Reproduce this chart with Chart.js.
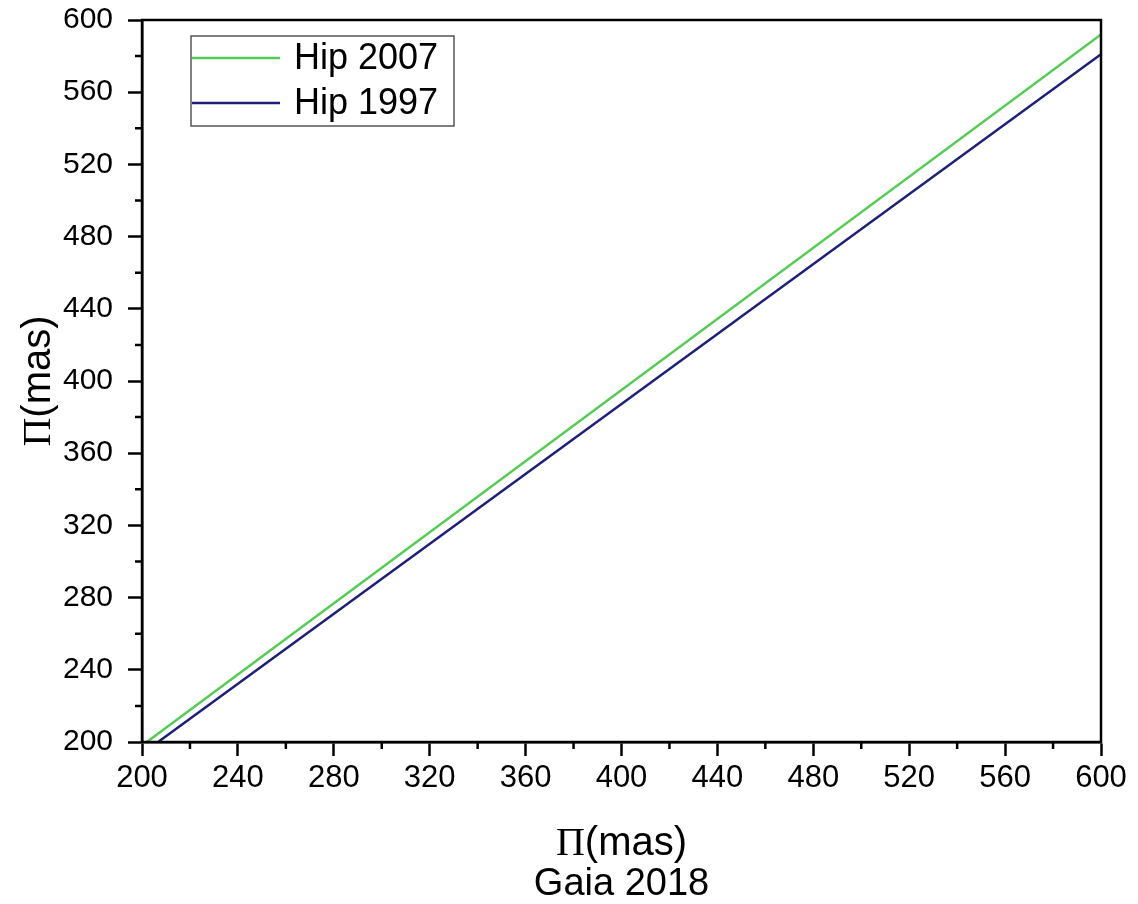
<!DOCTYPE html>
<html>
<head>
<meta charset="utf-8">
<script src="https://cdn.jsdelivr.net/npm/chart.js@4"></script>
<style>
  html, body { margin: 0; padding: 0; background: #fff; }
  #wrap { width: 1138px; height: 904px; }
</style>
</head>
<body>
<div id="wrap"><canvas id="chart" width="1138" height="904"></canvas></div>
<script>
// Gaia 2018 parallax (x) vs Hipparcos parallax (y)
const gaia2007 = [202, 600]
const hip2007 = [200, 592]
const gaia1997 = [206.7, 600]
const hip1997 = [200, 581]

const axisMin = 200
const axisMax = 600
const minorStep = 20
const majorStep = 40

const seriesLabels = ['Hip 2007', 'Hip 1997']
const seriesColors = ['#55cc55', '#1f1f7a']

const toPoints = (xs, ys) => xs.map((x, i) => ({ x: x, y: ys[i] }))

const isMajor = v => Math.round(v) % majorStep === 0

// frame, minor ticks, legend box and the two-font axis titles
const decorations = {
  id: 'decorations',
  afterDraw(chart) {
    const { ctx, chartArea: area, scales } = chart
    ctx.save()

    ctx.strokeStyle = '#000'
    ctx.lineWidth = 2.5
    ctx.strokeRect(area.left, area.top, area.right - area.left, area.bottom - area.top)

    // minor ticks
    ctx.beginPath()
    for (let v = axisMin; v <= axisMax; v += minorStep) {
      if (isMajor(v)) continue
      const px = scales.x.getPixelForValue(v)
      ctx.moveTo(px, area.bottom)
      ctx.lineTo(px, area.bottom + 7)
      const py = scales.y.getPixelForValue(v)
      ctx.moveTo(area.left, py)
      ctx.lineTo(area.left - 7, py)
    }
    ctx.stroke()

    // legend
    const box = { left: 191, top: 36, right: 454, bottom: 126 }
    ctx.fillStyle = '#fff'
    ctx.fillRect(box.left, box.top, box.right - box.left, box.bottom - box.top)
    ctx.strokeStyle = '#555'
    ctx.lineWidth = 1.5
    ctx.strokeRect(box.left, box.top, box.right - box.left, box.bottom - box.top)
    const rows = [58, 103]
    chart.data.datasets.forEach((ds, i) => {
      ctx.strokeStyle = ds.borderColor
      ctx.lineWidth = 2.5
      ctx.beginPath()
      ctx.moveTo(192, rows[i])
      ctx.lineTo(280, rows[i])
      ctx.stroke()
      ctx.fillStyle = '#000'
      ctx.font = '36px "Liberation Sans", Arial, sans-serif'
      ctx.textAlign = 'left'
      ctx.textBaseline = 'middle'
      ctx.fillText(ds.label, 294, rows[i] + 1)
    })

    // axis titles: serif Pi followed by sans "(mas)"
    const drawTitle = (cx, cy) => {
      ctx.textBaseline = 'alphabetic'
      ctx.textAlign = 'left'
      ctx.font = '40px "Liberation Serif", "Times New Roman", serif'
      const piW = ctx.measureText('\u03A0').width
      ctx.font = '40px "Liberation Sans", Arial, sans-serif'
      const restW = ctx.measureText('(mas)').width
      const start = cx - (piW + restW) / 2
      ctx.font = '40px "Liberation Serif", "Times New Roman", serif'
      ctx.fillText('\u03A0', start, cy)
      ctx.font = '40px "Liberation Sans", Arial, sans-serif'
      ctx.fillText('(mas)', start + piW, cy)
    }
    ctx.fillStyle = '#000'
    const midX = (area.left + area.right) / 2
    drawTitle(midX, 855)
    ctx.font = '38px "Liberation Sans", Arial, sans-serif'
    ctx.textAlign = 'center'
    ctx.fillText('Gaia 2018', midX, 895)

    ctx.save()
    ctx.translate(50, (area.top + area.bottom) / 2)
    ctx.rotate(-Math.PI / 2)
    drawTitle(0, 0)
    ctx.restore()

    ctx.restore()
  }
}

const tickStyle = size => ({
  stepSize: minorStep,
  color: '#000',
  font: { family: '"Liberation Sans", Arial, sans-serif', size: size },
  autoSkip: false,
  maxRotation: 0,
  callback: v => (isMajor(v) ? String(v) : '')
})

const gridStyle = {
  drawOnChartArea: false,
  tickLength: 14,
  tickWidth: 2.5,
  tickColor: ctx => (ctx.tick && isMajor(ctx.tick.value) ? '#000' : 'rgba(0,0,0,0)')
}

new Chart(document.getElementById('chart'), {
  type: 'line',
  data: {
    datasets: [
      {
        label: seriesLabels[0],
        data: toPoints(gaia2007, hip2007),
        borderColor: seriesColors[0],
        borderWidth: 2.5,
        pointRadius: 0,
        tension: 0
      },
      {
        label: seriesLabels[1],
        data: toPoints(gaia1997, hip1997),
        borderColor: seriesColors[1],
        borderWidth: 2.5,
        pointRadius: 0,
        tension: 0
      }
    ]
  },
  options: {
    responsive: false,
    animation: false,
    layout: { padding: { top: 20, right: 37, left: 0, bottom: 0 } },
    plugins: {
      legend: { display: false },
      tooltip: { enabled: false }
    },
    scales: {
      x: {
        type: 'linear',
        min: axisMin,
        max: axisMax,
        ticks: { ...tickStyle(31), padding: 4 },
        grid: gridStyle,
        border: { color: '#000', width: 2.5 },
        afterFit: scale => {
          scale.height = 162
          scale.paddingLeft = 0
          scale.paddingRight = 0
        }
      },
      y: {
        type: 'linear',
        min: axisMin,
        max: axisMax,
        ticks: { ...tickStyle(30), padding: 15 },
        grid: gridStyle,
        border: { color: '#000', width: 2.5 },
        afterFit: scale => {
          scale.width = 142
          scale.paddingTop = 0
          scale.paddingBottom = 0
        }
      }
    }
  },
  plugins: [decorations]
})
</script>
</body>
</html>
